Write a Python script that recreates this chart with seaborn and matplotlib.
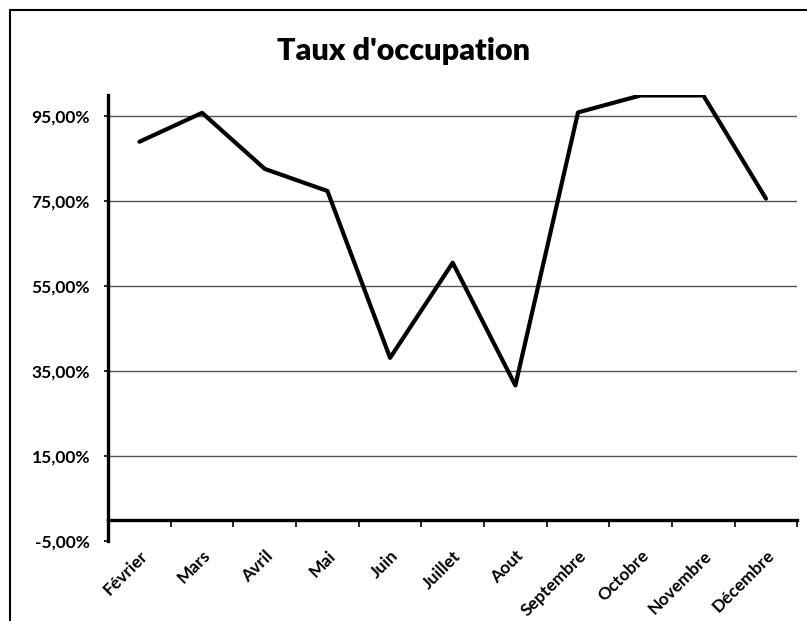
import pandas as pd
import seaborn as sns
import matplotlib.pyplot as plt
from matplotlib.lines import Line2D
from matplotlib.ticker import FuncFormatter, FixedLocator

sns.set_style("white", {"text.color": "black", "xtick.color": "black",
                        "ytick.color": "black", "axes.edgecolor": "black"})
plt.rcParams['font.family'] = ['Lato', 'DejaVu Sans']

mois = ["Février", "Mars", "Avril", "Mai", "Juin", "Juillet", "Aout",
        "Septembre", "Octobre", "Novembre", "Décembre"]
taux = [89.0, 95.8, 82.6, 77.4, 38.1, 60.5, 31.6, 95.9, 99.9, 99.9, 75.6]
y_ticks = [-5, 15, 35, 55, 75, 95]

df = pd.DataFrame({"mois": mois, "taux": taux})
df["pos"] = range(len(mois))

fig = plt.figure(figsize=(8.07, 6.21), dpi=100)
ax = fig.add_axes([0.134, 0.129, 0.854, 0.718])

for y in y_ticks[1:]:
    ax.axhline(y, color="#555555", lw=1.0, zorder=1)

sns.lineplot(data=df, x="pos", y="taux", color="black", lw=3.0, ax=ax, zorder=3)

ax.set_xlim(-0.5, len(mois) - 0.5)
ax.set_ylim(-5, 100)
ax.set_yticks(y_ticks)
ax.yaxis.set_major_formatter(FuncFormatter(lambda v, p: f"{v:.2f}%".replace(".", ",")))

ax.spines["top"].set_visible(False)
ax.spines["right"].set_visible(False)
ax.spines["left"].set_linewidth(2.4)
ax.spines["bottom"].set_position(("data", 0))
ax.spines["bottom"].set_linewidth(2.4)

ax.set_xticks(range(len(mois)))
ax.set_xticklabels(mois, rotation=45, ha="right", rotation_mode="anchor")
ax.xaxis.set_minor_locator(FixedLocator([i + 0.5 for i in range(len(mois))]))
ax.tick_params(axis="x", which="major", length=0, pad=20, labelsize=12.5)
ax.tick_params(axis="x", which="minor", length=5, width=1.2, direction="out", bottom=True)
ax.tick_params(axis="y", length=3, width=1.2, pad=10, direction="out", left=True, labelsize=12.5)
for lab in ax.get_xticklabels() + ax.get_yticklabels():
    lab.set_fontweight("bold")

ax.set_xlabel("")
ax.set_ylabel("")
fig.text(0.5, 0.918, "Taux d'occupation", ha="center", va="center",
         fontsize=22, fontweight="heavy", color="black")

# chart border
fig.add_artist(Line2D([10 / 807, 10 / 807], [0, 1 - 10 / 621], color="black", lw=1.5))
fig.add_artist(Line2D([10 / 807, 1], [1 - 10 / 621, 1 - 10 / 621], color="black", lw=1.5))

fig.savefig("out.png", dpi=100)
